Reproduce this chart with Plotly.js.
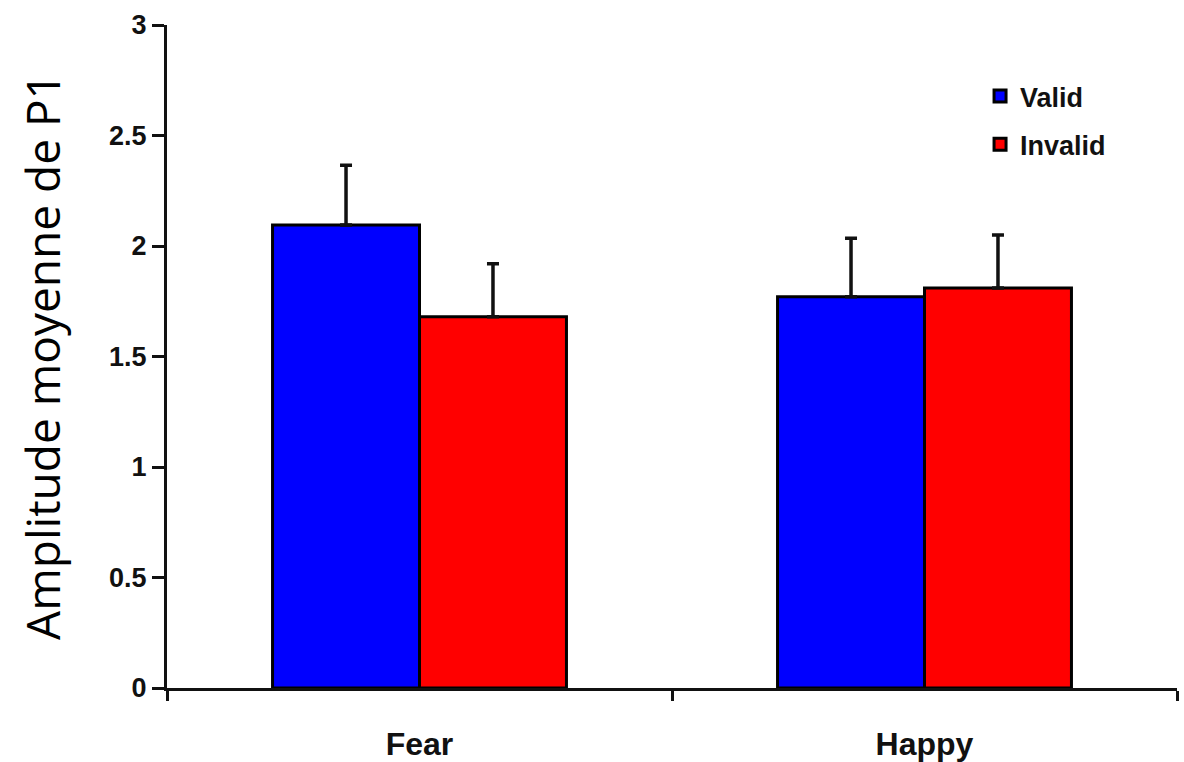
<!DOCTYPE html>
<html>
<head>
<meta charset="utf-8">
<script src="https://cdn.plot.ly/plotly-3.0.1.min.js"></script>
<style>html,body{margin:0;padding:0;background:#fff;}#chart{width:1184px;height:762px;}</style>
</head>
<body>
<div id="chart"></div>
<script>
const categories = ["Fear", "Happy"];
const validValues = [2.095, 1.77];
const validErrors = [0.27, 0.265];
const invalidValues = [1.68, 1.81];
const invalidErrors = [0.24, 0.24];
const yTickValues = [0, 0.5, 1, 1.5, 2, 2.5, 3];
const yTickLabels = ["0", "0.5", "1", "1.5", "2", "2.5", "3"];

const boldFont = "Liberation Sans, Arial, sans-serif";

function barTrace(name, group, values, errors, color) {
  return {
    type: "bar", name: name, legendgroup: group, x: categories, y: values,
    marker: {color: color, line: {color: "#000", width: 3}},
    error_y: {type: "data", symmetric: false, array: errors, arrayminus: [0, 0],
              color: "#111", thickness: 3.5, width: 6}
  };
}

const data = [
  barTrace("Valid", "a", validValues, validErrors, "#0000ff"),
  barTrace("Invalid", "b", invalidValues, invalidErrors, "#ff0000")
];

const layout = {
  width: 1184, height: 762,
  margin: {l: 167, r: 7, t: 25, b: 74},
  paper_bgcolor: "#fff", plot_bgcolor: "#fff",
  barmode: "group", bargap: 0.418, bargroupgap: 0,
  showlegend: true,
  legend: {x: 0.805, y: 0.929, xanchor: "left", yanchor: "top",
           font: {family: boldFont, size: 27, color: "#111", weight: "bold"},
           bgcolor: "rgba(0,0,0,0)", tracegroupgap: 10, itemwidth: 30},
  xaxis: {
    type: "category", showline: true, linecolor: "#111", linewidth: 3,
    ticks: "outside", tickson: "boundaries", ticklen: 10, tickwidth: 2.5, tickcolor: "#111",
    tickfont: {family: boldFont, size: 32, color: "#111", weight: "bold"},
    showgrid: false, zeroline: false, ticklabelstandoff: 26
  },
  yaxis: {
    range: [0, 3], tickvals: yTickValues, ticktext: yTickLabels,
    showline: true, linecolor: "#111", linewidth: 3,
    ticks: "outside", ticklen: 12, tickwidth: 3, tickcolor: "#111",
    tickfont: {family: boldFont, size: 27, color: "#111", weight: "bold"},
    showgrid: false, zeroline: false,
    title: {text: "Amplitude moyenne de P1", standoff: 34,
            font: {family: "Open Sans, sans-serif", size: 46, color: "#000"}}
  }
};

Plotly.newPlot("chart", data, layout, {displayModeBar: false});
</script>
</body>
</html>
